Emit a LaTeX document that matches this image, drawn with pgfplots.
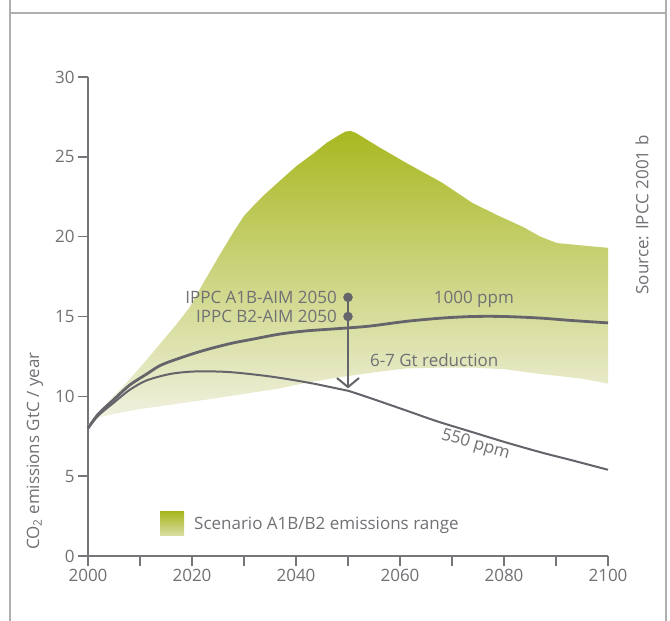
\documentclass[border=0pt]{standalone}
\usepackage{pgfplots}
\pgfplotsset{compat=1.18}
\usepackage{fontspec}
\setmainfont{Open Sans}
\usetikzlibrary{arrows.meta}

\definecolor{axisgray}{RGB}{118,118,122}
\definecolor{framegray}{RGB}{175,175,175}
\definecolor{txtgray}{RGB}{112,112,117}
\definecolor{linegray}{RGB}{100,100,106}
\definecolor{gTop}{RGB}{168,184,32}
\definecolor{gBot}{RGB}{242,242,228}
\definecolor{legBot}{RGB}{218,222,165}
\newcommand{\fsz}{\fontsize{17bp}{20bp}\selectfont}

\begin{document}
\begin{tikzpicture}
\useasboundingbox (-88bp,-65bp) rectangle (582bp,556bp);
% frame
\draw[framegray, line width=1.4bp] (-78bp,-65bp) -- (-78bp,556bp);
\draw[framegray, line width=1.4bp] (578bp,-65bp) -- (578bp,556bp);
\draw[framegray, line width=1.4bp] (-78bp,543bp) -- (578bp,543bp);

\begin{axis}[
  at={(0,0)}, anchor=south west,
  width=520bp, height=479bp, scale only axis,
  xmin=2000, xmax=2100, ymin=0, ymax=30,
  axis x line*=bottom, axis y line*=left,
  axis line style={draw=axisgray, line width=1.4bp, -},
  xtick={2000,2020,...,2100},
  minor xtick={2010,2030,...,2090},
  ytick={0,5,...,30},
  tick align=outside,
  major tick length=10bp, minor tick length=10bp,
  every tick/.style={draw=axisgray, line width=1.4bp},
  every minor tick/.style={draw=axisgray, line width=1.4bp},
  ticklabel style={font=\fsz, text=txtgray},
  /pgf/number format/1000 sep={},
  /pgf/number format/assume math mode=true,
  clip=false,
]

% scenario A1B/B2 emissions range (upper edge, then lower edge back)
\addplot[draw=none, top color=gTop, bottom color=gBot] coordinates {
  (2000,8.2) (2002,8.9) (2004,9.7) (2006.7,10.6) (2010,11.8)
  (2014.4,13.5) (2017,14.5) (2019.6,15.6) (2022,17.0) (2025.4,18.9)
  (2028,20.3) (2030,21.3) (2032,22.0) (2034,22.65) (2036.9,23.5) (2040,24.4)
  (2043.3,25.2) (2046,25.9) (2048.5,26.4) (2049.5,26.58) (2050.5,26.62)
  (2051.5,26.5) (2053,26.2) (2056,25.6) (2061.3,24.6) (2068,23.4)
  (2074,22.1) (2079,21.3) (2083.7,20.6) (2087,20.0) (2090.2,19.6)
  (2095,19.45) (2100,19.3)
  (2100,10.8) (2095,11.1) (2087,11.4) (2080,11.7) (2074,11.8)
  (2068,11.8) (2061.3,11.75) (2055,11.5) (2048.5,11.2) (2042,10.85)
  (2036.9,10.5) (2030,10.15) (2024,9.85) (2017.7,9.56) (2010,9.2)
  (2005,8.9) (2002.3,8.7) (2000,8.2)
} -- cycle;

% 1000 ppm
\addplot[draw=linegray, line width=2.8bp, smooth, tension=0.5] coordinates {
  (2000,8.0) (2002,8.9) (2004.8,9.75) (2008,10.7) (2011.3,11.4)
  (2014,11.95) (2017.7,12.4) (2022,12.85) (2027.3,13.3) (2032,13.6)
  (2036.9,13.9) (2042,14.1) (2048.5,14.25) (2054.2,14.4) (2061.3,14.7)
  (2068,14.9) (2074,15.0) (2080,15.0) (2087,14.9) (2093,14.75) (2100,14.6)
};

% 550 ppm
\addplot[draw=linegray, line width=2bp, smooth, tension=0.5] coordinates {
  (2000,8.0) (2002,8.8) (2004.8,9.56) (2008,10.4) (2011.3,11.0)
  (2015.8,11.4) (2020,11.55) (2024,11.56) (2028,11.5) (2033.7,11.3)
  (2038,11.1) (2043.3,10.8) (2048.5,10.45) (2050,10.35) (2054.2,9.9)
  (2061.3,9.1) (2067,8.45) (2074,7.75) (2080,7.15) (2087,6.5)
  (2093,6.0) (2100,5.4)
};

% reduction arrow and 2050 scenario points
\addplot[draw=linegray, line width=2.2bp,
  -{Straight Barb[length=9bp, width=22bp, line width=2bp]}]
  coordinates {(2050,16.2) (2050,10.5)};
\addplot[only marks, mark=*, mark size=4.5bp, color=linegray,
  mark options={fill=linegray}] coordinates {(2050,16.2) (2050,15.0)};

\node[anchor=east, inner sep=0, text=txtgray, font=\fsz, xshift=-11bp]
  at (axis cs:2050,16.2) {IPPC A1B-AIM 2050};
\node[anchor=east, inner sep=0, text=txtgray, font=\fsz, xshift=-11bp]
  at (axis cs:2050,15.0) {IPPC B2-AIM 2050};
\node[inner sep=0, text=txtgray, font=\fsz] at (axis cs:2074.2,16.05) {1000 ppm};
\node[anchor=west, inner sep=0, text=txtgray, font=\fsz] at (axis cs:2054.2,12.25) {6-7 Gt reduction};
\node[inner sep=0, text=txtgray, font=\fsz, rotate=-16] at (axis cs:2074.5,6.95) {550 ppm};
\end{axis}

% legend
\shade[top color=gTop, bottom color=legBot] (72bp,20bp) rectangle (96bp,44bp);
\node[anchor=west, inner sep=0, text=txtgray, font=\fsz] at (106bp,31bp) {Scenario A1B/B2 emissions range};

% axis title and source
\node[anchor=west, rotate=90, inner sep=0, text=txtgray, font=\fsz] at (-53bp,6bp) {CO\textsubscript{2} emissions GtC / year};
\node[rotate=90, inner sep=0, text=txtgray, font=\fsz] at (554bp,341bp) {Source: IPCC 2001 b};
\end{tikzpicture}
\end{document}
